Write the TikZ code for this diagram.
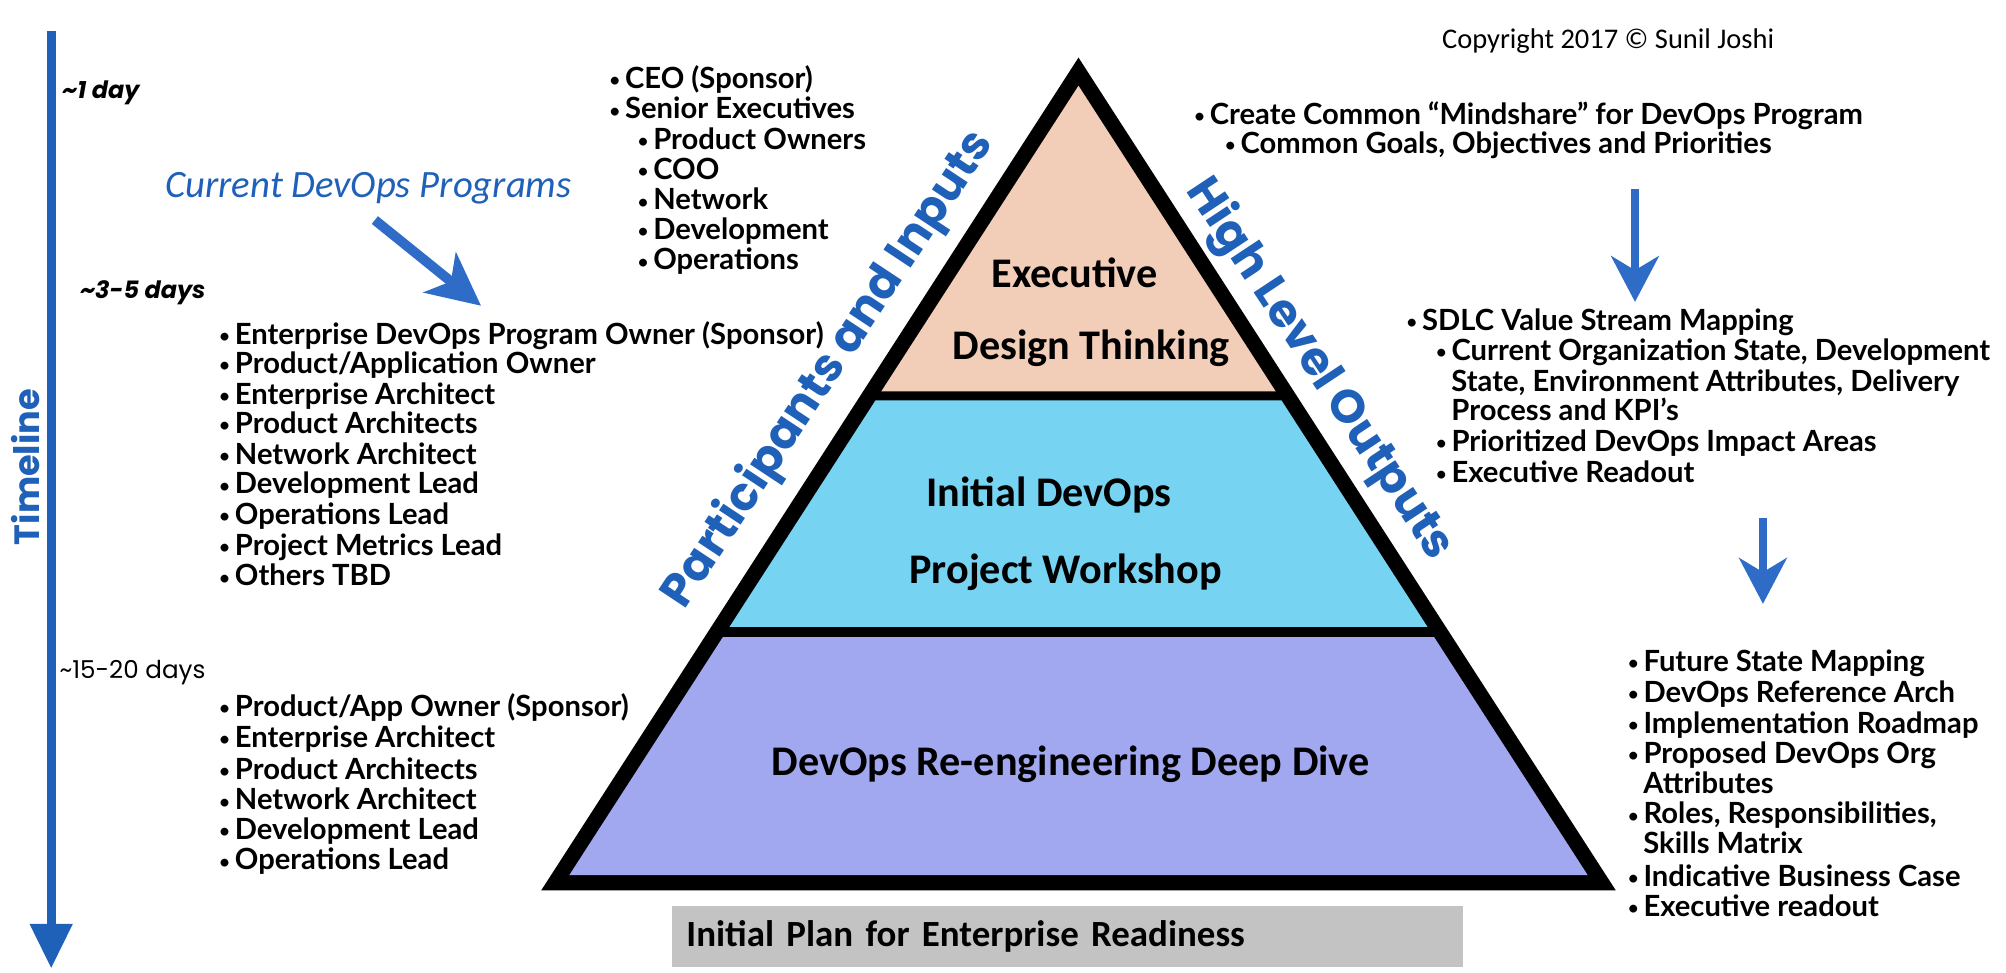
\documentclass[tikz,border=0pt]{standalone}
\usepackage{fontspec}
\setmainfont{Carlito}
\newfontfamily\gillf{Lato}
\newfontfamily\chalkf{Poppins}
\usetikzlibrary{arrows.meta}
\definecolor{tlblue}{RGB}{31,96,184}
\definecolor{arblue}{RGB}{46,108,200}
\definecolor{peach}{RGB}{242,205,183}
\definecolor{cyanband}{RGB}{118,211,242}
\definecolor{purpband}{RGB}{161,168,240}
\definecolor{grayband}{RGB}{195,195,195}
\newcommand\listfont{\gillf\bfseries\fontsize{8.3}{8.6}\selectfont}
\newcommand\bul{\makebox[4.4pt][l]{\raisebox{0.12ex}{\scalebox{0.62}{\textbullet}}}}
\begin{document}
\begin{tikzpicture}[x=0.012793cm,y=-0.012793cm,
  item/.style={anchor=base west, inner sep=0pt, font=\listfont},
  pyrlabel/.style={inner sep=0pt, font=\bfseries\fontsize{12}{14}\selectfont},
  timelabel/.style={anchor=base west, inner sep=0pt, font=\chalkf\fontsize{7}{8}\selectfont},
  sidelabel/.style={inner sep=0pt, text=tlblue, font=\chalkf\bfseries\fontsize{13.2}{15}\selectfont},
  bluearrow/.style={draw=arblue, line width=2.5pt, -{Stealth[length=13pt,width=13.5pt,inset=4pt]}}]
\useasboundingbox (0,0) rectangle (1568,760);

% timeline
\coordinate (tlTop) at (40,24);
\coordinate (tlEnd) at (40,757);
\draw[draw=tlblue, line width=2.5pt, -{Triangle[length=12.7pt,width=11.6pt]}] (tlTop) -- (tlEnd);
\node[inner sep=0pt, rotate=90, text=tlblue, font=\chalkf\bfseries\fontsize{10}{12}\selectfont] (timeline) at (20,365) {Timeline};
\node[timelabel, font=\chalkf\bfseries\itshape\fontsize{6.8}{8}\selectfont] (t1) at (48,77) {\textasciitilde1 day};
\node[timelabel, font=\chalkf\bfseries\itshape\fontsize{6.8}{8}\selectfont] (t2) at (62,233) {\textasciitilde3-5 days};
\node[timelabel] (t3) at (46,530) {\textasciitilde15-20 days};

% current programs
\node[inner sep=0pt, text=tlblue, font=\itshape\fontsize{11}{13}\selectfont] (current) at (288,147) {Current DevOps Programs};
\coordinate (cpS) at (293,172);
\coordinate (cpE) at (376,239);
\draw[bluearrow, line width=2.8pt, -{Stealth[length=15pt,width=14.5pt,inset=4pt]}] (cpS) -- (cpE);

% pyramid
\fill[black] (843,45) -- (423,696) -- (1263,696) -- cycle;
\fill[peach] (843,67) -- (688.8,306) -- (997.2,306) -- cycle;
\fill[cyanband] (684.3,313) -- (570.2,490) -- (1115.8,490) -- (1001.7,313) -- cycle;
\fill[purpband] (565,498) -- (445,684) -- (1241,684) -- (1121,498) -- cycle;
\node[pyrlabel] (exec1) at (840,213) {Executive};
\node[pyrlabel] (exec2) at (853,272) {Design Thinking};
\node[pyrlabel] (ws1) at (820,387) {Initial DevOps};
\node[pyrlabel] (ws2) at (833,447) {Project Workshop};
\node[pyrlabel] (deep) at (837,597) {DevOps Re-engineering Deep Dive};
\node[fill=grayband, anchor=north west, minimum width=7.906cm, minimum height=0.601cm,
      text width=7.624cm, inner xsep=0.141cm, inner ysep=0pt, align=left,
      font=\bfseries\fontsize{10.5}{12}\selectfont] (plan) at (525,708) {Initial Plan for Enterprise Readiness};

\node[sidelabel, rotate=56.5] (pin) at (648,289) {Participants and Inputs};
\node[sidelabel, rotate=-56.5] (hlo) at (1031,289) {High Level Outputs};

% copyright
\node[inner sep=0pt, font=\fontsize{8.1}{10}\selectfont] (copy) at (1257,32) {Copyright 2017 © Sunil Joshi};

% top middle list
\node[item] (e1) at (476,69) {\bul CEO (Sponsor)};
\node[item] (e2) at (476,93) {\bul Senior Executives};
\node[item] (e3) at (498,117) {\bul Product Owners};
\node[item] (e4) at (498,140) {\bul COO};
\node[item] (e5) at (498,164) {\bul Network};
\node[item] (e6) at (498,187) {\bul Development};
\node[item] (e7) at (498,211) {\bul Operations};

% left list 1
\node[item] (a1) at (171,269) {\bul Enterprise DevOps Program Owner (Sponsor)};
\node[item] (a2) at (171,292) {\bul Product/Application Owner};
\node[item] (a3) at (171,316) {\bul Enterprise Architect};
\node[item] (a4) at (171,339) {\bul Product Architects};
\node[item] (a5) at (171,363) {\bul Network Architect};
\node[item] (a6) at (171,386) {\bul Development Lead};
\node[item] (a7) at (171,410) {\bul Operations Lead};
\node[item] (a8) at (171,434) {\bul Project Metrics Lead};
\node[item] (a9) at (171,458) {\bul Others TBD};

% left list 2
\node[item] (b1) at (171,560) {\bul Product/App Owner (Sponsor)};
\node[item] (b2) at (171,584) {\bul Enterprise Architect};
\node[item] (b3) at (171,609) {\bul Product Architects};
\node[item] (b4) at (171,633) {\bul Network Architect};
\node[item] (b5) at (171,656) {\bul Development Lead};
\node[item] (b6) at (171,680) {\bul Operations Lead};

% right top
\node[item] (r1) at (933,97) {\bul Create Common “Mindshare” for DevOps Program};
\node[item] (r2) at (957,120) {\bul Common Goals, Objectives and Priorities};
\coordinate (ar1S) at (1278,148);
\coordinate (ar1E) at (1278,236);
\draw[bluearrow] (ar1S) -- (ar1E);

% right middle
\node[item] (m1) at (1099,258) {\bul SDLC Value Stream Mapping};
\node[item] (m2) at (1122,282) {\bul Current Organization State, Development};
\node[item] (m3) at (1134,306) {State, Environment Attributes, Delivery};
\node[item] (m4) at (1134,329) {Process and KPI’s};
\node[item] (m5) at (1122,353) {\bul Prioritized DevOps Impact Areas};
\node[item] (m6) at (1122,377) {\bul Executive Readout};
\coordinate (ar2S) at (1378,405);
\coordinate (ar2E) at (1378,472);
\draw[bluearrow] (ar2S) -- (ar2E);

% bottom right
\node[item] (f1) at (1272,525) {\bul Future State Mapping};
\node[item] (f2) at (1272,549) {\bul DevOps Reference Arch};
\node[item] (f3) at (1272,573) {\bul Implementation Roadmap};
\node[item] (f4) at (1272,597) {\bul Proposed DevOps Org};
\node[item] (f5) at (1284,620) {Attributes};
\node[item] (f6) at (1272,644) {\bul Roles, Responsibilities,};
\node[item] (f7) at (1284,667) {Skills Matrix};
\node[item] (f8) at (1272,693) {\bul Indicative Business Case};
\node[item] (f9) at (1272,716) {\bul Executive readout};
\end{tikzpicture}
\end{document}
